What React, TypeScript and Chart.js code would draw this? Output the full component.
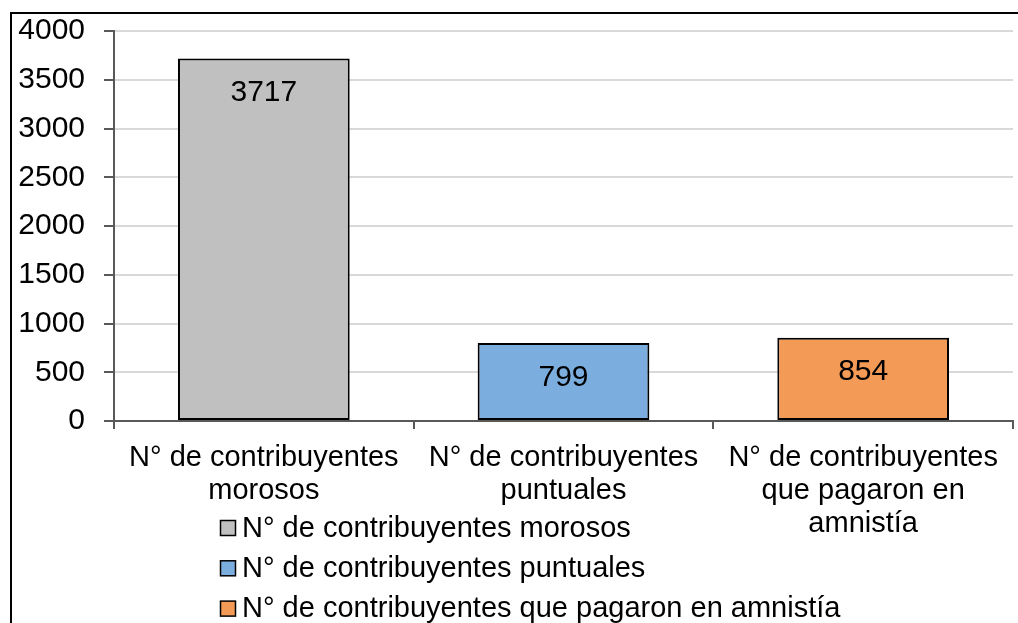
import React, { useEffect, useRef } from "react";
import { Chart, registerables } from "chart.js";

Chart.register(...registerables);

const categories: string[][] = [
  ["N° de contribuyentes", "morosos"],
  ["N° de contribuyentes", "puntuales"],
  ["N° de contribuyentes", "que pagaron en", "amnistía"],
];
const legendLabels: string[] = [
  "N° de contribuyentes morosos",
  "N° de contribuyentes puntuales",
  "N° de contribuyentes que pagaron en amnistía",
];
const values: number[] = [3717, 799, 854];
const barColors: string[] = ["#C0C0C0", "#7BAEDE", "#F49A57"];
const yMin = 0;
const yMax = 4000;
const yStep = 500;

const FONT = "'Liberation Sans', Arial, sans-serif";

export default function App() {
  const canvasRef = useRef<HTMLCanvasElement | null>(null);

  useEffect(() => {
    const canvas = canvasRef.current;
    if (!canvas) return;

    const valueLabels = {
      id: "valueLabels",
      afterDatasetsDraw(chart: any) {
        const ctx = chart.ctx;
        const meta = chart.getDatasetMeta(0);
        ctx.save();
        ctx.font = `30px ${FONT}`;
        ctx.fillStyle = "#000";
        ctx.textAlign = "center";
        ctx.textBaseline = "alphabetic";
        meta.data.forEach((bar: any, i: number) => {
          ctx.fillText(String(values[i]), bar.x, bar.y + 42.5);
        });
        ctx.restore();
      },
    };

    const customLegend = {
      id: "customLegend",
      afterDraw(chart: any) {
        const ctx = chart.ctx;
        ctx.save();
        ctx.font = `29px ${FONT}`;
        ctx.textAlign = "left";
        ctx.textBaseline = "alphabetic";
        legendLabels.forEach((label, i) => {
          const top = 520.5 + i * 40.3;
          ctx.fillStyle = barColors[i];
          ctx.fillRect(220.5, top, 15, 15);
          ctx.strokeStyle = "#000";
          ctx.lineWidth = 1.5;
          ctx.strokeRect(220.5, top, 15, 15);
          ctx.fillStyle = "#000";
          ctx.fillText(label, 242, top + 16.2);
        });
        ctx.restore();
      },
    };

    const chart = new Chart(canvas, {
      type: "bar",
      data: {
        labels: categories,
        datasets: [
          {
            label: "valores",
            data: values,
            backgroundColor: barColors,
            borderColor: "#000",
            borderWidth: 2,
            borderSkipped: false,
            barPercentage: 0.573,
            categoryPercentage: 1,
          },
        ],
      },
      options: {
        animation: false,
        responsive: true,
        maintainAspectRatio: false,
        events: [],
        layout: { padding: { top: 31, right: 5, left: 0, bottom: 0 } },
        plugins: {
          legend: { display: false },
          tooltip: { enabled: false },
        },
        scales: {
          x: {
            afterFit: (s: any) => {
              s.height = 202;
              s.paddingLeft = 0;
              s.paddingRight = 0;
            },
            grid: {
              display: true,
              drawOnChartArea: false,
              drawTicks: true,
              offset: true,
              tickLength: 8,
              tickColor: "#595959",
              lineWidth: 2,
            },
            border: { display: true, color: "#595959", width: 2 },
            ticks: {
              color: "#000",
              padding: 12.5,
              maxRotation: 0,
              autoSkip: false,
              font: { family: FONT, size: 29, lineHeight: 1.14 },
            },
          },
          y: {
            min: yMin,
            max: yMax,
            afterFit: (s: any) => {
              s.width = 114;
              s.paddingTop = 0;
              s.paddingBottom = 0;
            },
            grid: {
              color: (c: any) => (c.tick && c.tick.value === 0 ? "rgba(0,0,0,0)" : "#D9D9D9"),
              lineWidth: 2,
              drawTicks: true,
              tickLength: 10,
              tickColor: "#595959",
            },
            border: { display: true, color: "#595959", width: 2 },
            ticks: {
              stepSize: yStep,
              color: "#000",
              padding: 19,
              font: { family: FONT, size: 30 },
              callback: (v: any) => String(v),
            },
          },
        },
      },
      plugins: [valueLabels, customLegend],
    });

    return () => {
      chart.destroy();
    };
  }, []);

  return (
    <div
      style={{
        position: "fixed",
        left: 0,
        top: 0,
        width: 1018,
        height: 623,
        overflow: "hidden",
        background: "#fff",
      }}
    >
      <div
        style={{
          position: "absolute",
          left: 10,
          top: 12,
          width: 1100,
          height: 700,
          border: "2px solid #000",
          boxSizing: "border-box",
        }}
      />
      <div style={{ position: "absolute", left: 0, top: 0, width: 1018, height: 623 }}>
        <canvas ref={canvasRef} />
      </div>
    </div>
  );
}
